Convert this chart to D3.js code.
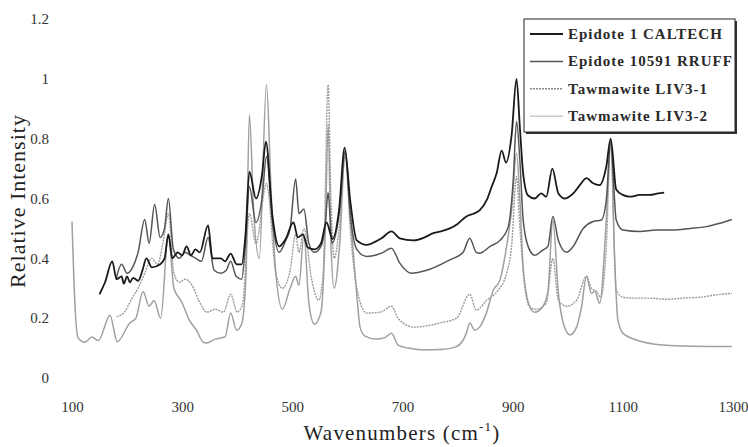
<!DOCTYPE html>
<html>
<head>
<meta charset="utf-8">
<script src="https://cdn.jsdelivr.net/npm/d3@7"></script>
<style>
  body { margin: 0; background: #fff; }
  text { font-family: "Liberation Serif", "DejaVu Serif", serif; }
</style>
</head>
<body>
<svg id="chart" width="748" height="447"></svg>
<script>
// series names, as in the legend
var seriesNames = ["Epidote 1 CALTECH", "Epidote 10591 RRUFF", "Tawmawite LIV3-1", "Tawmawite LIV3-2"];

// Epidote 1 CALTECH (black, top)
var epi1Wn = [150, 160, 173, 181, 190, 194, 200, 205, 211, 220, 228, 235, 245, 260, 268, 275, 282, 292, 300, 308, 316, 324, 332, 347, 355, 370, 378, 388, 399, 408, 415, 422, 434, 445, 452, 464, 476, 488, 502, 510, 519, 528, 540, 552, 562, 573, 585, 595, 605, 617, 635, 650, 662, 680, 695, 720, 740, 756, 770, 786, 800, 816, 830, 840, 853, 862, 871, 880, 888, 898, 907, 913, 919, 928, 940, 952, 961, 972, 983, 995, 1010, 1022, 1034, 1046, 1058, 1070, 1078, 1088, 1100, 1113, 1131, 1149, 1164, 1175];
var epi1Val = [0.28, 0.32, 0.39, 0.33, 0.34, 0.315, 0.34, 0.32, 0.335, 0.325, 0.36, 0.40, 0.37, 0.38, 0.40, 0.48, 0.40, 0.42, 0.41, 0.44, 0.41, 0.43, 0.42, 0.51, 0.40, 0.40, 0.39, 0.416, 0.38, 0.38, 0.48, 0.69, 0.60, 0.68, 0.79, 0.54, 0.44, 0.465, 0.52, 0.47, 0.48, 0.436, 0.43, 0.45, 0.52, 0.465, 0.565, 0.77, 0.595, 0.46, 0.445, 0.455, 0.467, 0.49, 0.467, 0.46, 0.47, 0.484, 0.49, 0.50, 0.515, 0.54, 0.55, 0.56, 0.595, 0.64, 0.685, 0.76, 0.72, 0.81, 1.0, 0.84, 0.685, 0.61, 0.60, 0.617, 0.606, 0.70, 0.617, 0.60, 0.617, 0.645, 0.668, 0.651, 0.645, 0.707, 0.80, 0.63, 0.612, 0.606, 0.612, 0.612, 0.617, 0.62];

// Epidote 10591 RRUFF (dark grey, second)
var epi2Wn = [180, 190, 200, 210, 220, 232, 240, 250, 260, 268, 275, 284, 295, 305, 315, 325, 335, 347, 358, 370, 380, 388, 398, 408, 415, 422, 434, 445, 453, 464, 476, 488, 496, 506, 512, 521, 530, 540, 552, 560, 565, 572, 585, 596, 605, 617, 635, 665, 680, 695, 716, 744, 786, 810, 822, 834, 840, 859, 877, 892, 901, 907, 913, 919, 928, 940, 955, 964, 973, 983, 998, 1010, 1028, 1046, 1061, 1070, 1078, 1088, 1100, 1131, 1161, 1191, 1222, 1252, 1276, 1298];
var epi2Val = [0.33, 0.38, 0.35, 0.37, 0.42, 0.53, 0.45, 0.58, 0.47, 0.50, 0.60, 0.43, 0.40, 0.42, 0.41, 0.40, 0.39, 0.47, 0.36, 0.35, 0.36, 0.39, 0.34, 0.33, 0.45, 0.64, 0.52, 0.60, 0.74, 0.52, 0.42, 0.46, 0.50, 0.665, 0.55, 0.565, 0.45, 0.42, 0.44, 0.52, 0.62, 0.45, 0.55, 0.76, 0.55, 0.43, 0.406, 0.42, 0.434, 0.384, 0.35, 0.36, 0.395, 0.42, 0.467, 0.42, 0.417, 0.44, 0.46, 0.506, 0.66, 0.857, 0.73, 0.53, 0.44, 0.41, 0.428, 0.44, 0.54, 0.46, 0.42, 0.44, 0.50, 0.523, 0.528, 0.595, 0.79, 0.528, 0.495, 0.49, 0.495, 0.495, 0.50, 0.506, 0.517, 0.53];

// Tawmawite LIV3-1 (dotted grey, third)
var taw1Wn = [181, 195, 210, 220, 232, 245, 255, 265, 275, 285, 295, 305, 318, 330, 345, 360, 375, 388, 400, 410, 422, 434, 453, 470, 482, 496, 506, 512, 521, 535, 548, 556, 565, 570, 576, 585, 596, 605, 617, 635, 660, 680, 692, 720, 768, 798, 822, 834, 853, 872, 889, 898, 907, 913, 922, 931, 943, 961, 973, 983, 998, 1016, 1034, 1043, 1052, 1060, 1070, 1078, 1088, 1100, 1119, 1149, 1179, 1210, 1240, 1270, 1298];
var taw1Val = [0.205, 0.22, 0.27, 0.30, 0.35, 0.40, 0.38, 0.45, 0.55, 0.35, 0.32, 0.33, 0.31, 0.26, 0.22, 0.23, 0.22, 0.28, 0.22, 0.25, 0.55, 0.45, 0.65, 0.35, 0.30, 0.36, 0.48, 0.42, 0.50, 0.33, 0.26, 0.35, 0.98, 0.60, 0.40, 0.50, 0.74, 0.50, 0.30, 0.217, 0.22, 0.24, 0.20, 0.17, 0.184, 0.20, 0.28, 0.227, 0.26, 0.29, 0.35, 0.44, 0.673, 0.506, 0.305, 0.238, 0.23, 0.25, 0.40, 0.26, 0.24, 0.26, 0.34, 0.30, 0.29, 0.27, 0.44, 0.79, 0.294, 0.27, 0.267, 0.267, 0.263, 0.267, 0.27, 0.278, 0.283];

// Tawmawite LIV3-2 (grey, bottom)
var taw2Wn = [100, 105, 111, 124, 136, 148, 169, 182, 205, 216, 229, 240, 249, 261, 275, 285, 299, 314, 326, 338, 344, 360, 378, 388, 399, 408, 416, 422, 430, 440, 453, 462, 470, 482, 496, 506, 512, 521, 530, 540, 552, 560, 565, 570, 576, 586, 596, 605, 617, 623, 632, 652, 668, 680, 692, 710, 738, 770, 798, 816, 822, 831, 840, 852, 865, 877, 889, 898, 907, 913, 919, 931, 940, 955, 964, 973, 983, 992, 1004, 1016, 1025, 1034, 1043, 1049, 1058, 1070, 1078, 1085, 1091, 1100, 1125, 1155, 1209, 1298];
var taw2Val = [0.523, 0.26, 0.134, 0.12, 0.137, 0.125, 0.21, 0.121, 0.184, 0.20, 0.289, 0.24, 0.259, 0.20, 0.48, 0.30, 0.255, 0.19, 0.16, 0.12, 0.117, 0.13, 0.138, 0.217, 0.16, 0.18, 0.35, 0.88, 0.55, 0.40, 0.98, 0.60, 0.35, 0.23, 0.30, 0.34, 0.31, 0.48, 0.25, 0.18, 0.22, 0.50, 0.85, 0.45, 0.30, 0.45, 0.76, 0.55, 0.28, 0.17, 0.14, 0.13, 0.135, 0.15, 0.11, 0.10, 0.094, 0.095, 0.105, 0.15, 0.184, 0.16, 0.17, 0.216, 0.294, 0.328, 0.44, 0.56, 0.75, 0.60, 0.37, 0.238, 0.22, 0.24, 0.29, 0.528, 0.283, 0.183, 0.144, 0.17, 0.238, 0.34, 0.283, 0.29, 0.25, 0.53, 0.80, 0.40, 0.194, 0.15, 0.127, 0.114, 0.107, 0.105];

var xTicks = [100, 300, 500, 700, 900, 1100, 1300];
var yTicks = [0, 0.2, 0.4, 0.6, 0.8, 1, 1.2];

var svg = d3.select("#chart");

var x = d3.scaleLinear().domain([100, 1300]).range([72, 733]);
var y = d3.scaleLinear().domain([0, 1.2]).range([378, 19]);

// styles per series
var styles = [
  { color: "#1a1a1a", width: 1.8, dash: null },
  { color: "#555", width: 1.5, dash: null },
  { color: "#9a9a9a", width: 1.4, dash: "2,1" },
  { color: "#a0a0a0", width: 1.5, dash: null }
];

var series = [
  { name: seriesNames[0], wn: epi1Wn, val: epi1Val },
  { name: seriesNames[1], wn: epi2Wn, val: epi2Val },
  { name: seriesNames[2], wn: taw1Wn, val: taw1Val },
  { name: seriesNames[3], wn: taw2Wn, val: taw2Val }
];

var line = d3.line()
  .x(function (d) { return x(d[0]); })
  .y(function (d) { return y(d[1]); })
  .curve(d3.curveMonotoneX);

// draw bottom series first so black sits on top
series.slice().reverse().forEach(function (s) {
  var i = series.indexOf(s);
  svg.append("path")
    .datum(d3.zip(s.wn, s.val))
    .attr("fill", "none")
    .attr("stroke", styles[i].color)
    .attr("stroke-width", styles[i].width)
    .attr("stroke-dasharray", styles[i].dash)
    .attr("stroke-linejoin", "round")
    .attr("d", line);
});

// axes, no lines, only labels
var yAxis = svg.append("g")
  .attr("transform", "translate(52,0)")
  .call(d3.axisLeft(y).tickValues(yTicks).tickSize(0).tickPadding(3)
    .tickFormat(function (d) { return d === 0 || d === 1 ? String(d) : d3.format(".1f")(d); }));
yAxis.select(".domain").remove();
yAxis.selectAll("text")
  .attr("font-family", "Liberation Serif")
  .attr("font-size", 15)
  .attr("fill", "#333");

var xAxis = svg.append("g")
  .attr("transform", "translate(0,397)")
  .call(d3.axisBottom(x).tickValues(xTicks).tickSize(0).tickPadding(4)
    .tickFormat(d3.format("d")));
xAxis.select(".domain").remove();
xAxis.selectAll("text")
  .attr("font-family", "Liberation Serif")
  .attr("font-size", 15)
  .attr("fill", "#333");

// axis titles
svg.append("text")
  .attr("transform", "translate(25,201) rotate(-90)")
  .attr("text-anchor", "middle")
  .attr("font-size", 22)
  .attr("letter-spacing", 1)
  .attr("fill", "#222")
  .text("Relative Intensity");

var xt = svg.append("text")
  .attr("x", 402)
  .attr("y", 440)
  .attr("text-anchor", "middle")
  .attr("font-size", 21)
  .attr("letter-spacing", 1.2)
  .attr("fill", "#222");
xt.append("tspan").text("Wavenumbers (cm");
xt.append("tspan").attr("font-size", 13).attr("dy", -9).text("-1");
xt.append("tspan").attr("dy", 9).text(")");

// legend
var legend = svg.append("g").attr("transform", "translate(524,19)");
legend.append("rect")
  .attr("x", 2).attr("y", 2)
  .attr("width", 211).attr("height", 113)
  .attr("fill", "#333");
legend.append("rect")
  .attr("width", 211).attr("height", 113)
  .attr("fill", "#fff")
  .attr("stroke", "#222")
  .attr("stroke-width", 1);

var legendColors = ["#1a1a1a", "#555", "#888", "#c8c8c8"];
var legendDash = [null, null, "2,1", null];
seriesNames.forEach(function (name, i) {
  var ly = 15 + i * 27.4;
  legend.append("line")
    .attr("x1", 6).attr("x2", 39)
    .attr("y1", ly).attr("y2", ly)
    .attr("stroke", legendColors[i])
    .attr("stroke-width", i === 0 ? 2 : 1.5)
    .attr("stroke-dasharray", legendDash[i]);
  legend.append("text")
    .attr("x", 44)
    .attr("y", ly + 5)
    .attr("font-size", 15)
    .attr("font-weight", "bold")
    .attr("letter-spacing", 1)
    .attr("fill", "#2a2a2a")
    .text(name);
});
</script>
</body>
</html>
